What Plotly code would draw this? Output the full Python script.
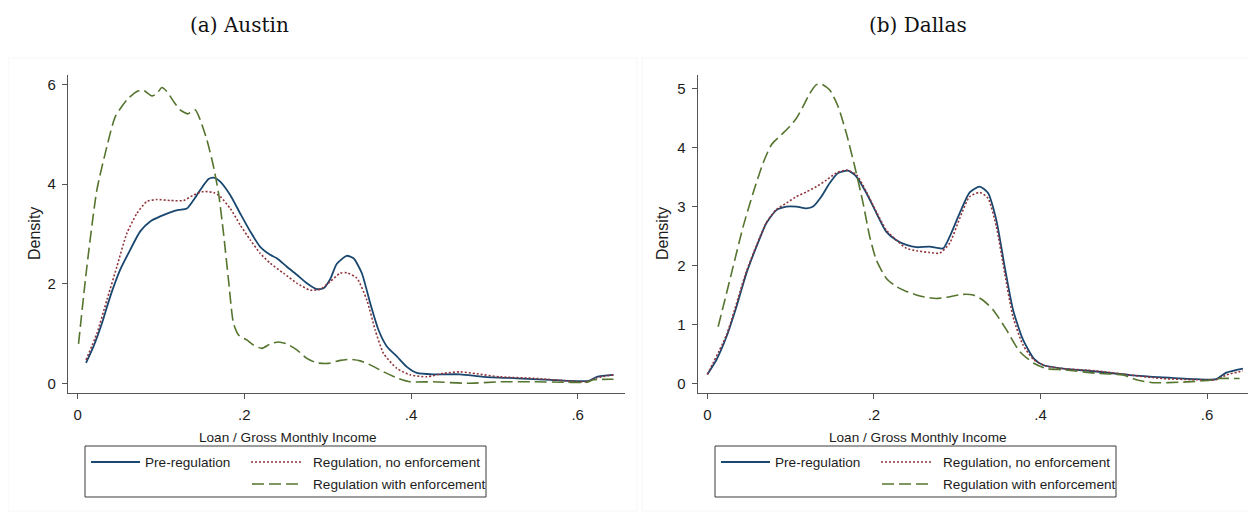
import plotly.graph_objects as go

# ---------------- data ----------------
series_names = ["Pre-regulation", "Regulation, no enforcement", "Regulation with enforcement"]
x_ticks = [0, 0.2, 0.4, 0.6]
x_tick_labels = ["0", ".2", ".4", ".6"]
austin_y_ticks = [0, 2, 4, 6]
dallas_y_ticks = [0, 1, 2, 3, 4, 5]
panel_titles = ["(a) Austin", "(b) Dallas"]
x_title = "Loan / Gross Monthly Income"
y_title = "Density"

# Austin
austin_pre_x = [.010, .019, .029, .039, .051, .063, .075, .087, .099, .111, .121, .131, .139, .147, .157, .163,
                .171, .183, .195, .207, .219, .231, .239, .251, .263, .275, .287, .295, .303, .311, .323, .331,
                .341, .351, .361, .371, .383, .395, .407, .427, .459, .487, .527, .567, .587, .613, .623, .643]
austin_pre_y = [.41, .74, 1.20, 1.74, 2.28, 2.68, 3.05, 3.25, 3.35, 3.43, 3.48, 3.51, 3.68, 3.88, 4.10, 4.13,
                4.05, 3.78, 3.41, 3.05, 2.74, 2.58, 2.51, 2.34, 2.18, 2.01, 1.89, 1.91, 2.09, 2.40, 2.56, 2.51,
                2.21, 1.61, 1.07, .74, .54, .33, .21, .18, .18, .13, .10, .07, .05, .05, .13, .17]
austin_noenf_x = [.010, .023, .035, .047, .059, .071, .083, .095, .111, .127, .139, .151, .163, .171, .183, .195,
                  .207, .219, .231, .247, .263, .279, .291, .303, .315, .323, .335, .347, .357, .367, .383, .399,
                  .419, .439, .459, .479, .507, .547, .587, .611, .623, .643]
austin_noenf_y = [.47, 1.00, 1.67, 2.34, 3.01, 3.41, 3.65, 3.69, 3.67, 3.67, 3.78, 3.85, 3.83, 3.75, 3.51, 3.18,
                  2.88, 2.61, 2.41, 2.21, 2.01, 1.87, 1.89, 2.04, 2.21, 2.22, 2.11, 1.67, 1.07, .60, .30, .17,
                  .13, .20, .23, .19, .13, .10, .05, .03, .11, .17]
austin_enf_x = [.001, .011, .023, .035, .045, .059, .071, .079, .089, .095, .101, .107, .115, .123, .132, .141,
                .147, .155, .163, .169, .175, .181, .187, .193, .203, .211, .221, .231, .241, .251, .263, .275,
                .287, .301, .315, .327, .339, .351, .367, .383, .399, .427, .467, .507, .547, .587, .611, .619, .643]
austin_enf_y = [.79, 2.34, 3.88, 4.75, 5.35, 5.69, 5.86, 5.88, 5.77, 5.82, 5.94, 5.86, 5.66, 5.49, 5.41, 5.49,
                5.29, 4.89, 4.35, 3.82, 3.01, 2.07, 1.20, .97, .87, .77, .70, .79, .83, .79, .67, .50,
                .41, .40, .46, .48, .45, .37, .23, .11, .03, .03, .00, .03, .03, .02, .02, .07, .08]

# Dallas
dallas_pre_x = [0, .011, .023, .035, .047, .059, .071, .083, .095, .107, .119, .127, .137, .147, .157, .169,
                .179, .191, .203, .215, .227, .239, .251, .267, .283, .291, .303, .315, .327, .337, .347, .357,
                .367, .379, .392, .403, .427, .467, .507, .547, .587, .611, .623, .643]
dallas_pre_y = [.15, .40, .79, 1.30, 1.87, 2.32, 2.72, 2.94, 3.00, 3.00, 2.97, 3.00, 3.17, 3.40, 3.57, 3.61,
                3.51, 3.23, 2.89, 2.57, 2.43, 2.35, 2.31, 2.32, 2.29, 2.49, 2.89, 3.24, 3.34, 3.23, 2.77, 1.98,
                1.25, .74, .42, .31, .25, .20, .14, .10, .07, .07, .18, .25]
dallas_noenf_x = [0, .023, .047, .071, .083, .095, .107, .119, .131, .143, .155, .167, .179, .191, .203, .215,
                  .227, .239, .251, .267, .279, .291, .303, .315, .327, .337, .347, .357, .367, .379, .392, .407,
                  .427, .467, .507, .547, .587, .611, .623, .643]
dallas_noenf_y = [.15, .82, 1.90, 2.73, 2.95, 3.06, 3.17, 3.25, 3.34, 3.45, 3.57, 3.62, 3.54, 3.25, 2.91, 2.60,
                  2.43, 2.29, 2.25, 2.22, 2.21, 2.38, 2.80, 3.17, 3.24, 3.14, 2.66, 1.87, 1.13, .65, .40, .29,
                  .25, .21, .14, .08, .06, .06, .14, .21]
dallas_enf_x = [.013, .021, .031, .043, .055, .067, .077, .089, .099, .107, .115, .123, .131, .137, .147, .157,
                .167, .177, .187, .195, .203, .215, .227, .239, .251, .263, .275, .287, .307, .319, .331, .343,
                .359, .375, .392, .407, .427, .467, .499, .515, .535, .571, .603, .615, .639]
dallas_enf_y = [.96, 1.41, 1.98, 2.66, 3.23, 3.74, 4.05, 4.22, 4.36, 4.50, 4.70, 4.92, 5.07, 5.08, 4.98, 4.70,
                4.24, 3.68, 3.06, 2.49, 2.09, 1.78, 1.64, 1.56, 1.50, 1.46, 1.44, 1.46, 1.51, 1.50, 1.41, 1.25,
                .91, .54, .34, .25, .23, .17, .14, .06, .01, .02, .05, .08, .08]

# ---------------- styling ----------------
PAGE_OFF = 8                      # default body margin of the html page
W, H = 1256 - PAGE_OFF, 512 - PAGE_OFF
NAVY, MAROON, GREEN = "#1a476f", "#90353b", "#55752f"
colors = [NAVY, MAROON, GREEN]
dashes = ["solid", "2px,2px", "12px,5px"]
widths = [1.8, 1.6, 1.6]
FONT = "Liberation Sans, Arial, sans-serif"
TXT = "#1c1c1c"
AX = "#555555"


def px(x):
    return (x - PAGE_OFF) / W


def py(y):
    return 1 - (y - PAGE_OFF) / H


fig = go.Figure()

panels = [
    dict(xs=[austin_pre_x, austin_noenf_x, austin_enf_x], ys=[austin_pre_y, austin_noenf_y, austin_enf_y],
         xa="x", ya="y"),
    dict(xs=[dallas_pre_x, dallas_noenf_x, dallas_enf_x], ys=[dallas_pre_y, dallas_noenf_y, dallas_enf_y],
         xa="x2", ya="y2"),
]
for p in panels:
    for i in range(3):
        fig.add_trace(go.Scatter(
            x=p["xs"][i], y=p["ys"][i], mode="lines", name=series_names[i], showlegend=False,
            line=dict(color=colors[i], width=widths[i], dash=dashes[i], shape="spline", smoothing=0.6),
            xaxis=p["xa"], yaxis=p["ya"], hoverinfo="skip"))

axis_common = dict(showline=True, linecolor=AX, linewidth=1.3, ticks="outside", ticklen=5,
                   tickcolor=AX, tickwidth=1.2, showgrid=False, zeroline=False,
                   tickfont=dict(family=FONT, size=15, color=TXT), fixedrange=True)

fig.update_layout(
    width=W, height=H, margin=dict(l=0, r=0, t=0, b=0),
    paper_bgcolor="white", plot_bgcolor="white",
    xaxis=dict(domain=[px(68), px(625)], range=[-0.01164, 0.6568], tickvals=x_ticks, ticktext=x_tick_labels,
               anchor="y", ticklabelstandoff=3, **axis_common),
    yaxis=dict(domain=[py(392.7), py(75)], range=[-0.189, 6.19], tickvals=austin_y_ticks, anchor="x",
               ticklabelstandoff=3, **axis_common),
    xaxis2=dict(domain=[px(697.7), px(1253)], range=[-0.01152, 0.6551], tickvals=x_ticks, ticktext=x_tick_labels,
                anchor="y2", ticklabelstandoff=3, **axis_common),
    yaxis2=dict(domain=[py(392.7), py(75)], range=[-0.160, 5.234], tickvals=dallas_y_ticks, anchor="x2",
                ticklabelstandoff=3, **axis_common),
)

shapes = []
annotations = []

# faint graph-region borders
for (x0, x1) in [(8, 637), (642, 1255)]:
    shapes.append(dict(type="rect", xref="paper", yref="paper", x0=px(x0), x1=px(x1), y0=py(511), y1=py(58),
                       line=dict(color="#f6f6f6", width=1), fillcolor="rgba(0,0,0,0)", layer="below"))

# titles
for title, cx in zip(panel_titles, [239, 917.5]):
    annotations.append(dict(text=title, xref="paper", yref="paper", x=px(cx), y=py(25), xanchor="center",
                            yanchor="middle", showarrow=False,
                            font=dict(family="DejaVu Serif, serif", size=20, color="#111111")))

# axis titles
for cx in [287.5, 918]:
    annotations.append(dict(text=x_title, xref="paper", yref="paper", x=px(cx), y=py(437), xanchor="center",
                            yanchor="middle", showarrow=False, font=dict(family=FONT, size=13.6, color=TXT)))
for cx in [35, 663]:
    annotations.append(dict(text=y_title, xref="paper", yref="paper", x=px(cx), y=py(234), xanchor="center",
                            yanchor="middle", textangle=-90, showarrow=False,
                            font=dict(family=FONT, size=16, color=TXT)))

# legends (one per panel)
for off in [0, 630]:
    shapes.append(dict(type="rect", xref="paper", yref="paper", x0=px(85 + off), x1=px(486 + off),
                       y0=py(497), y1=py(446), line=dict(color="#3a3a3a", width=1), fillcolor="white"))
    entries = [(0, 91, 140, 144, 462), (1, 251, 301, 312, 462), (2, 252, 301, 312, 484)]
    for i, sx0, sx1, tx, ry in entries:
        shapes.append(dict(type="line", xref="paper", yref="paper", x0=px(sx0 + off), x1=px(sx1 + off),
                           y0=py(ry), y1=py(ry), line=dict(color=colors[i], width=widths[i], dash=dashes[i])))
        annotations.append(dict(text=series_names[i], xref="paper", yref="paper", x=px(tx + off - 1), y=py(ry),
                                xanchor="left", yanchor="middle", showarrow=False,
                                font=dict(family=FONT, size=13.6, color=TXT)))

fig.update_layout(shapes=shapes, annotations=annotations)
fig.write_html("out.html")
